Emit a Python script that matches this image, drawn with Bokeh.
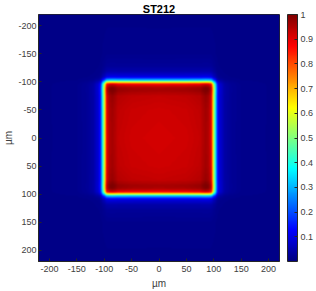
import numpy as np
from bokeh.plotting import figure
from bokeh.models import (LinearColorMapper, ColorBar, Range1d, FixedTicker)
from bokeh.embed import file_html
from bokeh.resources import INLINE

# Profile read across the square (µm -> normalised intensity), symmetric
profile_pos = [-220, -150, -130, -120, -112, -108, -105, -103, -101, -99, -97,
               -95, -90, -85, -75, -50, 0,
               50, 75, 85, 90, 95, 97, 99, 101, 103, 105, 108, 112, 120, 130,
               150, 220]
profile_val = [0.010, 0.015, 0.025, 0.04, 0.08, 0.13, 0.24, 0.38, 0.52, 0.66, 0.80,
               0.90, 0.95, 0.96, 0.93, 0.92, 0.915,
               0.92, 0.93, 0.96, 0.95, 0.90, 0.80, 0.66, 0.52, 0.38, 0.24, 0.13,
               0.08, 0.04, 0.025, 0.015, 0.010]
base_level = 0.01
plateau_level = 0.915

x_ticks = [-200, -150, -100, -50, 0, 50, 100, 150, 200]
y_ticks = [-200, -150, -100, -50, 0, 50, 100, 150, 200]
cbar_ticks = [0.1, 0.2, 0.3, 0.4, 0.5, 0.6, 0.7, 0.8, 0.9, 1.0]

# build field from the profile
grid = np.arange(-220, 221, 1.0)
p1 = np.interp(grid, profile_pos, profile_val)
px = p1[None, :]
py = p1[:, None]
field = base_level + (px - base_level) * (py - base_level) / (plateau_level - base_level)
field = np.clip(field, 0, 1)

# jet colormap
def jet(n=256):
    cols = []
    for i in range(n):
        t = i / (n - 1)
        r = min(max(1.5 - abs(4 * t - 3), 0), 1)
        g = min(max(1.5 - abs(4 * t - 2), 0), 1)
        b = min(max(1.5 - abs(4 * t - 1), 0), 1)
        cols.append("#%02x%02x%02x" % (int(r * 255), int(g * 255), int(b * 255)))
    return cols

mapper = LinearColorMapper(palette=jet(), low=0, high=1)

FONT = "Liberation Sans"
TXT = "#404040"

p = figure(width=316, height=291, output_backend="svg", toolbar_location=None,
           x_range=Range1d(-220, 220), y_range=Range1d(220, -220),
           min_border_left=0, min_border_right=0, min_border_top=0,
           min_border_bottom=0)
p.image(image=[field], x=-220, y=-220, dw=440, dh=440, color_mapper=mapper)

p.title.text = "ST212"
p.title.align = "center"
p.title.text_font = FONT
p.title.text_font_size = "11px"
p.title.text_font_style = "bold"
p.title.text_color = "black"
p.title.offset = 0
p.title.standoff = 0

for ax, ticks in ((p.xaxis[0], x_ticks), (p.yaxis[0], y_ticks)):
    ax.ticker = FixedTicker(ticks=ticks)
    ax.major_label_overrides = {t: str(t) for t in ticks}
    ax.axis_label = "µm"
    ax.axis_label_text_font = FONT
    ax.axis_label_text_font_size = "10px"
    ax.axis_label_text_font_style = "normal"
    ax.axis_label_text_color = TXT
    ax.major_label_text_font = FONT
    ax.major_label_text_font_size = "9px"
    ax.major_label_text_color = TXT
    ax.major_tick_in = 3
    ax.major_tick_out = 0
    ax.minor_tick_line_color = None
    ax.axis_line_color = "#262626"
    ax.major_tick_line_color = "#262626"
p.xaxis.major_label_standoff = 4
p.xaxis.axis_label_standoff = 3
p.yaxis.major_label_standoff = 2
p.yaxis.axis_label_standoff = 1

p.grid.visible = False
p.outline_line_color = "#262626"

cb = ColorBar(color_mapper=mapper, width=10, padding=0, margin=0,
              ticker=FixedTicker(ticks=cbar_ticks),
              major_label_overrides={1.0: "1"},
              major_label_text_font=FONT, major_label_text_font_size="9px",
              major_label_text_color=TXT, major_tick_in=3, major_tick_out=0,
              major_tick_line_color="#262626", bar_line_color="#262626",
              label_standoff=3, location=(8, 0))
p.add_layout(cb, "right")

open("out.html", "w").write(file_html(p, INLINE))
